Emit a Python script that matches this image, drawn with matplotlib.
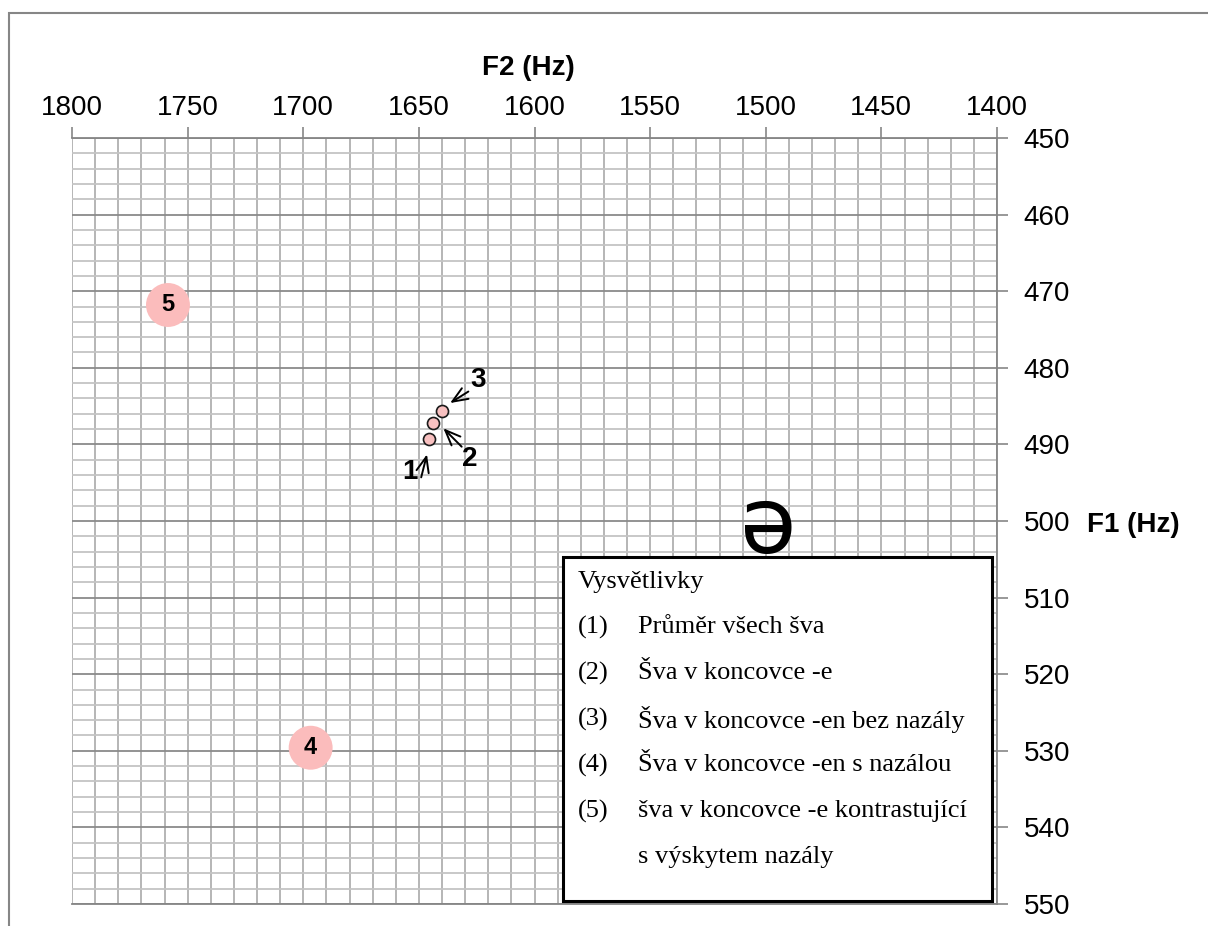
import matplotlib.pyplot as plt
from matplotlib.patches import Rectangle

plt.rcParams['font.family'] = ['Liberation Sans', 'DejaVu Sans']

# Formant means of schwa (F2, F1 in Hz)
labels = ['1', '2', '3', '4', '5']
f2 = [1645.7, 1643.9, 1639.9, 1696.8, 1758.5]
f1 = [489.3, 487.2, 485.7, 529.6, 471.8]

legend_nums = ['(1)', '(2)', '(3)', '(4)', '(5)', '']
legend_texts = ['Průměr všech šva',
                'Šva v koncovce -e',
                'Šva v koncovce -en bez nazály',
                'Šva v koncovce -en s nazálou',
                'šva v koncovce -e kontrastující',
                's výskytem nazály']

fig = plt.figure(figsize=(12.08, 9.26), dpi=100)
ax = fig.add_axes([72 / 1208, 1 - 904 / 926, (997 - 72) / 1208, (904 - 138) / 926])

# outer frame of the chart area
fig.patches.append(Rectangle((9 / 1208, -0.1), 1.1, 1 - 13 / 926 + 0.1,
                             transform=fig.transFigure, fill=False,
                             edgecolor='#868686', linewidth=1.5))

ax.set_xlim(1800, 1400)
ax.set_ylim(550, 450)

ax.xaxis.tick_top()
ax.yaxis.tick_right()

ax.set_xticks(range(1400, 1801, 50))
ax.set_xticks(range(1400, 1801, 10), minor=True)
ax.set_yticks(range(450, 551, 10))
ax.set_yticks(range(450, 551, 2), minor=True)

ax.tick_params(which='major', direction='out', length=8, width=1.2,
               color='#868686', labelsize=20)
ax.tick_params(axis='x', which='major', pad=4)
ax.tick_params(axis='y', which='major', pad=11)
ax.tick_params(which='minor', length=0)

ax.grid(which='both', axis='x', color='#b0b0b0', linewidth=1.3)
ax.grid(which='minor', axis='y', color='#c4c4c4', linewidth=1.3)
ax.grid(which='major', axis='y', color='#8a8a8a', linewidth=1.3)
ax.set_axisbelow(True)

ax.spines['left'].set_visible(False)
for side in ['top', 'right', 'bottom']:
    ax.spines[side].set_color('#868686')
    ax.spines[side].set_linewidth(1.3)

ax.text(0.493, 1.091, 'F2 (Hz)', transform=ax.transAxes, fontsize=20,
        fontweight='bold', ha='center', va='center')
ax.text(1.147, 0.495, 'F1 (Hz)', transform=ax.transAxes, fontsize=20,
        fontweight='bold', ha='center', va='center')

# small markers for the three close means, large ones with the number inside
ax.scatter(f2[:3], f1[:3], s=75, color='#f8c0c0', edgecolor='#1a1a1a',
           linewidth=1.2, zorder=3)
ax.scatter(f2[3:], f1[3:], s=1000, color='#fbbcbc', edgecolor='none', zorder=3)
for x, y, t in zip(f2[3:], f1[3:], labels[3:]):
    ax.text(x, y, t, ha='center', va='center', fontsize=17,
            fontweight='bold', zorder=4)

# numbered pointers to the three close means
arrow = dict(arrowstyle='->, head_length=1.1, head_width=0.45',
             color='black', lw=1.4, shrinkA=0, shrinkB=0)
pointers = [((1646.5, 491.3), (1649.0, 494.3), (1653.8, 493.6)),
            ((1639.4, 487.9), (1631.5, 490.3), (1628.0, 491.9)),
            ((1636.5, 484.6), (1628.6, 483.1), (1624.4, 481.6))]
for t, (head, tail, lab) in zip(labels[:3], pointers):
    ax.annotate('', xy=head, xytext=tail, arrowprops=arrow)
    ax.text(lab[0], lab[1], t, fontsize=20, fontweight='bold',
            ha='center', va='center')

ax.text(1499, 500.8, 'ə', fontsize=66, ha='center', va='center',
        family='DejaVu Sans')

# explanation box
box = Rectangle((0.531, 0.004), 0.4636, 0.449, transform=ax.transAxes,
                facecolor='white', edgecolor='black', linewidth=2.2, zorder=5)
ax.add_patch(box)
serif = dict(fontsize=19, family='Liberation Serif', va='center', ha='left',
             transform=ax.transAxes, zorder=6)
ax.text(0.547, 0.420, 'Vysvětlivky', **serif)
for i, (n, t) in enumerate(zip(legend_nums, legend_texts)):
    y = 0.361 - i * 0.060
    ax.text(0.547, y, n, **serif)
    ax.text(0.612, y, t, **serif)

fig.savefig('out.png', dpi=100)
